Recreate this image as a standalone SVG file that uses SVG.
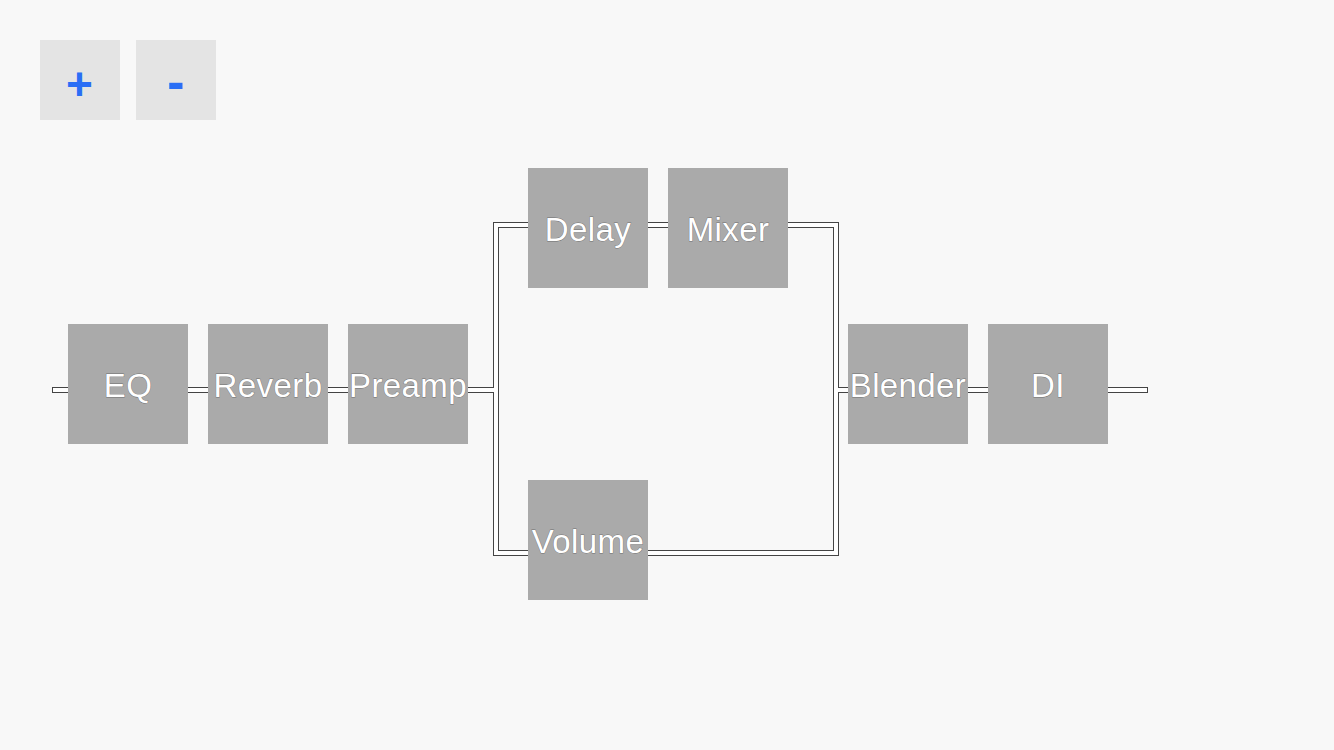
<svg xmlns="http://www.w3.org/2000/svg" width="1334" height="750" viewBox="0 0 1334 750">
<style>
.bg{fill:#f8f8f8}
.btn{fill:#e4e4e4}
.btxt{fill:#2a6ef5;font-family:"Liberation Sans",Arial,sans-serif;font-weight:bold;font-size:46px;text-anchor:middle}
.node rect{fill:#aaaaaa}
.node text{fill:#ffffff;stroke:#333333;stroke-width:0.8;stroke-opacity:0.5;paint-order:stroke;font-family:"Liberation Sans",Arial,sans-serif;font-size:33px;letter-spacing:0.4px;text-anchor:middle}
.pipeO{fill:none;stroke:#444444;stroke-width:6}
.pipeI{fill:none;stroke:#ffffff;stroke-width:4}
</style>
<rect class="bg" x="0" y="0" width="1334" height="750"/>
<g id="zoom-in"><rect class="btn" x="40" y="40" width="80" height="80"/><text class="btxt" x="79.5" y="100">+</text></g>
<g id="zoom-out"><rect class="btn" x="136" y="40" width="80" height="80"/><text class="btxt" x="176" y="99" style="font-size:52px">-</text></g>
<g id="connectors">
<path class="pipeO" d="M52 390H68 M188 390H208 M328 390H348 M468 390H496 M496 225H836V553H496Z M836 390H848 M968 390H988 M1108 390H1148"/>
<path class="pipeI" d="M53 390H68 M188 390H208 M328 390H348 M468 390H496 M496 225H836V553H496Z M836 390H848 M968 390H988 M1108 390H1147"/>
</g>
<g id="eq" class="node"><rect x="68" y="324" width="120" height="120"/><text x="128" y="397">EQ</text></g>
<g id="reverb" class="node"><rect x="208" y="324" width="120" height="120"/><text x="268" y="397">Reverb</text></g>
<g id="preamp" class="node"><rect x="348" y="324" width="120" height="120"/><text x="408" y="397">Preamp</text></g>
<g id="delay" class="node"><rect x="528" y="168" width="120" height="120"/><text x="588" y="241">Delay</text></g>
<g id="mixer" class="node"><rect x="668" y="168" width="120" height="120"/><text x="728" y="241">Mixer</text></g>
<g id="volume" class="node"><rect x="528" y="480" width="120" height="120"/><text x="588" y="553">Volume</text></g>
<g id="blender" class="node"><rect x="848" y="324" width="120" height="120"/><text x="908" y="397">Blender</text></g>
<g id="di" class="node"><rect x="988" y="324" width="120" height="120"/><text x="1048" y="397">DI</text></g>
</svg>
